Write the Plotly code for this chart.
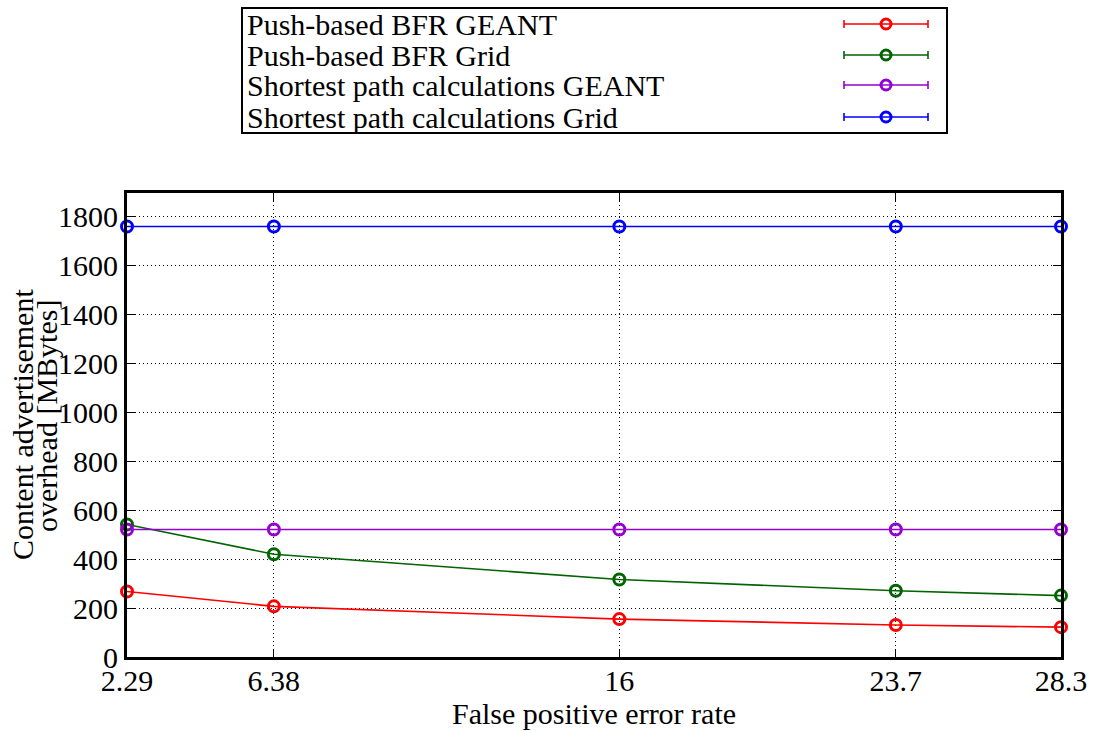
import plotly.graph_objects as go

# ---- data ----
x_vals = [2.29, 6.38, 16, 23.7, 28.3]
x_ticktext = ["2.29", "6.38", "16", "23.7", "28.3"]
push_geant = [268, 207, 155, 131, 122]
push_grid = [542, 420, 317, 271, 251]
sp_geant = [521, 521, 521, 521, 521]
sp_grid = [1760, 1760, 1760, 1760, 1760]
y_ticks = [0, 200, 400, 600, 800, 1000, 1200, 1400, 1600, 1800]

names = ["Push-based BFR GEANT", "Push-based BFR Grid",
         "Shortest path calculations GEANT", "Shortest path calculations Grid"]
colors = ["#ff0000", "#006400", "#9400d3", "#0000ff"]
series = [push_geant, push_grid, sp_geant, sp_grid]

FONT = "Liberation Serif, Times New Roman, Times, serif"
FS = 30
W, H = 1094, 731
ML, MR, MT, MB = 127, 33, 0, 74
PW = W - ML - MR
PH = H - MT - MB


def px_x(p):
    return (p - ML) / PW


def px_y(p):
    return (PH - p) / PH


fig = go.Figure()
for name, col, ys in zip(names, colors, series):
    fig.add_trace(go.Scatter(
        x=x_vals, y=ys, mode="lines+markers", name=name,
        line=dict(color=col, width=1.6),
        marker=dict(symbol="circle-open", size=11, color=col, line=dict(width=3, color=col)),
        cliponaxis=False, showlegend=False,
    ))

# custom gnuplot-style legend on a helper axis (pixel-like coordinates)
rows = [24, 55, 85, 117]
for name, col, ry in zip(names, colors, rows):
    fig.add_trace(go.Scatter(
        x=[886], y=[ry], mode="markers", xaxis="x2", yaxis="y2",
        marker=dict(symbol="circle-open", size=10, color=col, line=dict(width=3, color=col)),
        error_x=dict(type="constant", value=42, color=col, thickness=1.6, width=4),
        showlegend=False, hoverinfo="skip",
    ))
    fig.add_annotation(x=245, y=ry, xref="x2", yref="y2", text=name, showarrow=False,
                       xanchor="left", yanchor="middle",
                       font=dict(family=FONT, size=FS, color="black"))

fig.update_layout(
    width=W, height=H,
    margin=dict(l=ML, r=MR, t=MT, b=MB),
    paper_bgcolor="white", plot_bgcolor="white",
    font=dict(family=FONT, size=FS, color="black"),
    xaxis=dict(
        range=[2.29, 28.3], tickvals=x_vals, ticktext=x_ticktext,
        showline=True, linecolor="black", linewidth=3, mirror="ticks",
        ticks="inside", ticklen=8, tickcolor="black", tickwidth=1,
        showgrid=True, gridcolor="black", griddash="1px,3px", gridwidth=1,
        zeroline=False, tickfont=dict(family=FONT, size=FS),
        ticklabelstandoff=-5,
        domain=[0, 1],
    ),
    yaxis=dict(
        range=[0, 1897], tickvals=y_ticks,
        showline=True, linecolor="black", linewidth=3, mirror="ticks",
        ticks="inside", ticklen=8, tickcolor="black", tickwidth=1,
        showgrid=True, gridcolor="black", griddash="1px,3px", gridwidth=1,
        zeroline=False, tickfont=dict(family=FONT, size=FS),
        domain=[0, px_y(193)],
    ),
    xaxis2=dict(
        domain=[px_x(243), px_x(946)], range=[243, 946], anchor="y2",
        showline=True, linecolor="black", linewidth=1.5, mirror=True,
        showgrid=False, zeroline=False, showticklabels=False, ticks="",
    ),
    yaxis2=dict(
        domain=[px_y(132), px_y(9)], range=[132, 9], anchor="x2",
        showline=True, linecolor="black", linewidth=1.5, mirror=True,
        showgrid=False, zeroline=False, showticklabels=False, ticks="",
    ),
)

# axis titles
fig.add_annotation(x=px_x(594), y=px_y(713), xref="paper", yref="paper",
                   text="False positive error rate", showarrow=False,
                   xanchor="center", yanchor="middle",
                   font=dict(family=FONT, size=FS))
fig.add_annotation(x=px_x(22), y=px_y(425), xref="paper", yref="paper",
                   text="Content advertisement", showarrow=False, textangle=-90,
                   xanchor="center", yanchor="middle",
                   font=dict(family=FONT, size=FS))
fig.add_annotation(x=px_x(46), y=px_y(416), xref="paper", yref="paper",
                   text="overhead [MBytes]", showarrow=False, textangle=-90,
                   xanchor="center", yanchor="middle",
                   font=dict(family=FONT, size=FS))

fig.write_html("out.html")
